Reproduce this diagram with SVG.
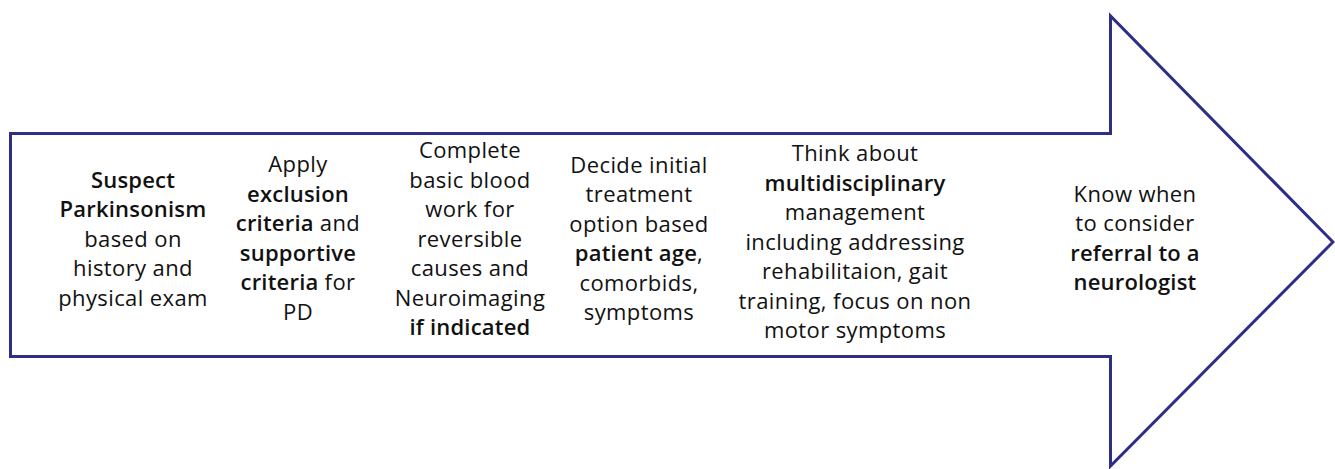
<svg xmlns="http://www.w3.org/2000/svg" width="1335" height="469" viewBox="0 0 1335 469">
<style>
text{font-family:"Open Sans","Noto Sans",sans-serif;font-size:22px;letter-spacing:0.4px;fill:#111;text-anchor:middle}
.b{font-weight:600;letter-spacing:0.2px}
.arrow{fill:#fff;stroke:#2e2e86;stroke-width:3;stroke-linejoin:miter}
</style>
<rect width="1335" height="469" fill="#fff"/>
<g id="arrow">
<path class="arrow" d="M10.5,133.5 H1110.5 V16 L1333,242 L1110.5,466 V356.5 H10.5 Z"/>
</g>
<g id="step1">
<text x="133" y="188" class="b">Suspect</text>
<text x="133" y="217" class="b">Parkinsonism</text>
<text x="133" y="247">based on</text>
<text x="133" y="276">history and</text>
<text x="133" y="306">physical exam</text>
</g>
<g id="step2">
<text x="298" y="172">Apply</text>
<text x="298" y="202" class="b">exclusion</text>
<text x="298" y="231"><tspan class="b">criteria</tspan> and</text>
<text x="298" y="261" class="b">supportive</text>
<text x="298" y="290"><tspan class="b">criteria</tspan> for</text>
<text x="298" y="320">PD</text>
</g>
<g id="step3">
<text x="470" y="158">Complete</text>
<text x="470" y="188">basic blood</text>
<text x="470" y="217">work for</text>
<text x="470" y="247">reversible</text>
<text x="470" y="276">causes and</text>
<text x="470" y="306">Neuroimaging</text>
<text x="470" y="335" class="b">if indicated</text>
</g>
<g id="step4">
<text x="639" y="173">Decide initial</text>
<text x="639" y="202">treatment</text>
<text x="639" y="232">option based</text>
<text x="639" y="261"><tspan class="b">patient age</tspan>,</text>
<text x="639" y="291">comorbids,</text>
<text x="639" y="320">symptoms</text>
</g>
<g id="step5">
<text x="855" y="161">Think about</text>
<text x="855" y="191" class="b">multidisciplinary</text>
<text x="855" y="220">management</text>
<text x="855" y="250">including  addressing</text>
<text x="855" y="279">rehabilitaion, gait</text>
<text x="855" y="309">training, focus on non</text>
<text x="855" y="338">motor symptoms</text>
</g>
<g id="step6">
<text x="1135" y="202">Know when</text>
<text x="1135" y="231">to consider</text>
<text x="1135" y="261" class="b">referral to a</text>
<text x="1135" y="290" class="b">neurologist</text>
</g>
<g id="connectors"></g>
</svg>
